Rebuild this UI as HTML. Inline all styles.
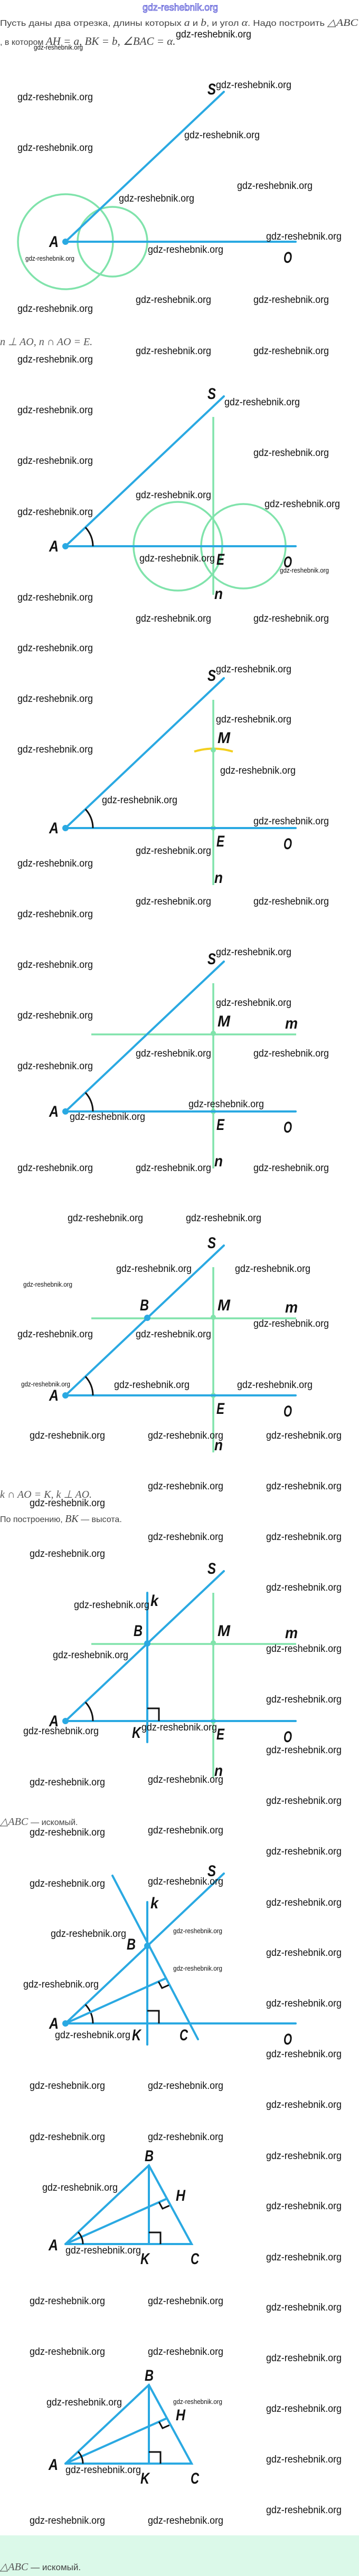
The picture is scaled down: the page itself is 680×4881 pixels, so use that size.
<!DOCTYPE html>
<html><head><meta charset="utf-8"><style>
html,body{margin:0;padding:0;background:#fff;}
svg{display:block;}
.w{font-family:"Liberation Sans",sans-serif;font-size:19px;fill:#111;}
.ws{font-family:"Liberation Sans",sans-serif;font-size:13px;fill:#111;}
.L{font-family:"Liberation Sans",sans-serif;font-size:30px;font-style:italic;font-weight:bold;fill:#111;}
.t{font-family:"Liberation Sans",sans-serif;font-size:16px;fill:#444;}
.m{font-family:"Liberation Serif",serif;font-style:italic;font-size:20px;fill:#555;}
.bl{stroke:#2aa9e2;stroke-width:4;stroke-linecap:round;fill:none;}
.gr{stroke:#80e3ab;stroke-width:3.5;fill:none;}
.bk{stroke:#111;stroke-width:3;fill:none;}
</style></head><body>
<svg width="680" height="4881" viewBox="0 0 680 4881" xmlns="http://www.w3.org/2000/svg">
<defs>
<g id="base">
<line class="bl" x1="124" y1="0" x2="424" y2="-284"/>
<line class="bl" x1="124" y1="0" x2="560" y2="0"/>
<circle cx="124" cy="0" r="6" fill="#2aa9e2"/>
<text class="L" x="93" y="10" textLength="18" lengthAdjust="spacingAndGlyphs">A</text>
<text class="L" x="393" y="-279" textLength="16" lengthAdjust="spacingAndGlyphs">S</text>
<text class="L" x="537" y="40" textLength="16" lengthAdjust="spacingAndGlyphs">O</text>
</g>
<path id="arc" class="bk" d="M176,0 A52 52 0 0 0 161.8,-35.7"/>
<g id="nline">
<line class="gr" x1="404" y1="-243" x2="404" y2="108"/>
<circle cx="404" cy="0" r="5" fill="#80e3ab"/>
<text class="L" x="410" y="35" textLength="15" lengthAdjust="spacingAndGlyphs">E</text>
<text class="L" x="406" y="104" textLength="16" lengthAdjust="spacingAndGlyphs">n</text>
<circle cx="404" cy="-148" r="5" fill="#80e3ab"/>
<text class="L" x="412" y="-161" textLength="24" lengthAdjust="spacingAndGlyphs">M</text>
</g>
<g id="mline">
<line class="gr" x1="173" y1="-146" x2="561" y2="-146"/>
<text class="L" x="540" y="-157" textLength="24" lengthAdjust="spacingAndGlyphs">m</text>
</g>
<g id="tri">
<polyline class="bl" points="124,0 282,-149 363,0 124,0"/>
<line class="bl" x1="282" y1="-149" x2="282" y2="0"/>
<line class="bl" x1="124" y1="0" x2="314" y2="-85"/>
<path class="bk" d="M148,-22.6 A33 33 0 0 1 157,0"/>
<path class="bk" d="M282,-22 L304,-22 L304,0"/>
<path class="bk" d="M301.2,-79.3 L307.9,-67 L320.7,-72.7"/>
<text class="L" x="92" y="12" textLength="18" lengthAdjust="spacingAndGlyphs">A</text>
<text class="L" x="274" y="-157" textLength="17" lengthAdjust="spacingAndGlyphs">B</text>
<text class="L" x="333" y="-82" textLength="18" lengthAdjust="spacingAndGlyphs">H</text>
<text class="L" x="266" y="38" textLength="17" lengthAdjust="spacingAndGlyphs">K</text>
<text class="L" x="361" y="38" textLength="16" lengthAdjust="spacingAndGlyphs">C</text>
</g>
</defs>

<text x="270" y="20" font-family="Liberation Sans,sans-serif" font-size="18" fill="#fff" stroke="#3b3bd0" stroke-width="0.8" textLength="143" lengthAdjust="spacingAndGlyphs">gdz-reshebnik.org</text>
<text class="t" x="0" y="49" textLength="678" lengthAdjust="spacingAndGlyphs">Пусть даны два отрезка, длины которых <tspan font-family="Liberation Serif,serif" font-style="italic" font-size="19">a</tspan> и <tspan font-family="Liberation Serif,serif" font-style="italic" font-size="19">b</tspan>, и угол <tspan font-family="Liberation Serif,serif" font-style="italic" font-size="19">α</tspan>. Надо построить <tspan font-family="Liberation Serif,serif" font-style="italic" font-size="19">△ABC</tspan></text>
<text class="t" x="0" y="85">, в котором <tspan font-family="Liberation Serif,serif" font-style="italic" font-size="21">AH = a, BK = b, ∠BAC = α.</tspan></text>

<!-- D1 -->
<g transform="translate(0,458)">
<circle class="gr" cx="124" cy="0" r="90"/>
<circle class="gr" cx="213" cy="0" r="66"/>
<use href="#base"/>
</g>
<text class="m" x="0" y="654">n ⊥ AO, n ∩ AO = E.</text>

<!-- D2 -->
<g transform="translate(0,1035)">
<circle class="gr" cx="337" cy="0" r="84"/>
<circle class="gr" cx="461" cy="0" r="80"/>
<line class="gr" x1="404" y1="-245" x2="404" y2="92"/>
<use href="#base"/><use href="#arc"/>
<text class="L" x="410" y="35" textLength="15" lengthAdjust="spacingAndGlyphs">E</text>
<text class="L" x="406" y="100" textLength="16" lengthAdjust="spacingAndGlyphs">n</text>
</g>

<!-- D3 -->
<g transform="translate(0,1569)">
<path d="M368,-145 Q404,-156 441,-145" stroke="#f3cf1f" stroke-width="4" fill="none"/>
<use href="#nline"/>
<use href="#base"/><use href="#arc"/>
</g>

<!-- D4 -->
<g transform="translate(0,2106)">
<use href="#nline"/><use href="#mline"/>
<use href="#base"/><use href="#arc"/>
</g>

<!-- D5 -->
<g transform="translate(0,2644)">
<use href="#nline"/><use href="#mline"/>
<use href="#base"/><use href="#arc"/>
<circle cx="279" cy="-147" r="6" fill="#2aa9e2"/>
<text class="L" x="265" y="-161" textLength="17" lengthAdjust="spacingAndGlyphs">B</text>
</g>
<text class="m" x="0" y="2838">k ∩ AO = K, k ⊥ AO.</text>
<text class="t" x="0" y="2884">По построению, <tspan font-family="Liberation Serif,serif" font-style="italic" font-size="20">BK</tspan> — высота.</text>

<!-- D5b -->
<g transform="translate(0,3261)">
<use href="#nline"/><use href="#mline"/>
<use href="#base"/><use href="#arc"/>
<line class="bl" x1="279" y1="-243" x2="279" y2="40"/>
<circle cx="279" cy="-147" r="6" fill="#2aa9e2"/>
<path class="bk" d="M279,-24 L301,-24 L301,0"/>
<text class="L" x="253" y="-161" textLength="17" lengthAdjust="spacingAndGlyphs">B</text>
<text class="L" x="285" y="-218" textLength="15" lengthAdjust="spacingAndGlyphs">k</text>
<text class="L" x="250" y="32" textLength="17" lengthAdjust="spacingAndGlyphs">K</text>
</g>
<text class="m" x="0" y="3458">△ABC <tspan font-family="Liberation Sans,sans-serif" font-style="normal" font-size="16" fill="#444">— искомый.</tspan></text>

<!-- D6 -->
<g transform="translate(0,3834)">
<use href="#base"/><use href="#arc"/>
<line class="bl" x1="279" y1="-230" x2="279" y2="40"/>
<line class="bl" x1="213" y1="-280" x2="375" y2="30"/>
<line class="bl" x1="124" y1="0" x2="313" y2="-85"/>
<circle cx="279" cy="-147" r="6" fill="#2aa9e2"/>
<path class="bk" d="M279,-24 L301,-24 L301,0"/>
<path class="bk" d="M300.2,-79.3 L306.9,-67 L319.7,-72.7"/>
<text class="L" x="240" y="-140" textLength="17" lengthAdjust="spacingAndGlyphs">B</text>
<text class="L" x="285" y="-218" textLength="15" lengthAdjust="spacingAndGlyphs">k</text>
<text class="L" x="250" y="32" textLength="17" lengthAdjust="spacingAndGlyphs">K</text>
<text class="L" x="340" y="32" textLength="16" lengthAdjust="spacingAndGlyphs">C</text>
</g>

<!-- D7, D8 -->
<g transform="translate(0,4252)"><use href="#tri"/></g>
<g transform="translate(0,4668)"><use href="#tri"/></g>

<rect x="0" y="4804" width="680" height="77" fill="#dbf9e9"/>
<text class="m" x="0" y="4870">△ABC <tspan font-family="Liberation Sans,sans-serif" font-style="normal" font-size="17" fill="#444">— искомый.</tspan></text>

<!-- watermarks -->
<g class="w">
<text x="333" y="71" textLength="143" lengthAdjust="spacingAndGlyphs">gdz-reshebnik.org</text>
<text x="409" y="167" textLength="143" lengthAdjust="spacingAndGlyphs">gdz-reshebnik.org</text>
<text x="33" y="190" textLength="143" lengthAdjust="spacingAndGlyphs">gdz-reshebnik.org</text>
<text x="349" y="262" textLength="143" lengthAdjust="spacingAndGlyphs">gdz-reshebnik.org</text>
<text x="33" y="286" textLength="143" lengthAdjust="spacingAndGlyphs">gdz-reshebnik.org</text>
<text x="449" y="358" textLength="143" lengthAdjust="spacingAndGlyphs">gdz-reshebnik.org</text>
<text x="225" y="382" textLength="143" lengthAdjust="spacingAndGlyphs">gdz-reshebnik.org</text>
<text x="504" y="454" textLength="143" lengthAdjust="spacingAndGlyphs">gdz-reshebnik.org</text>
<text x="280" y="479" textLength="143" lengthAdjust="spacingAndGlyphs">gdz-reshebnik.org</text>
<text x="257" y="574" textLength="143" lengthAdjust="spacingAndGlyphs">gdz-reshebnik.org</text>
<text x="480" y="574" textLength="143" lengthAdjust="spacingAndGlyphs">gdz-reshebnik.org</text>
<text x="33" y="591" textLength="143" lengthAdjust="spacingAndGlyphs">gdz-reshebnik.org</text>
<text x="257" y="671" textLength="143" lengthAdjust="spacingAndGlyphs">gdz-reshebnik.org</text>
<text x="480" y="671" textLength="143" lengthAdjust="spacingAndGlyphs">gdz-reshebnik.org</text>
<text x="33" y="687" textLength="143" lengthAdjust="spacingAndGlyphs">gdz-reshebnik.org</text>
<text x="425" y="768" textLength="143" lengthAdjust="spacingAndGlyphs">gdz-reshebnik.org</text>
<text x="33" y="783" textLength="143" lengthAdjust="spacingAndGlyphs">gdz-reshebnik.org</text>
<text x="480" y="864" textLength="143" lengthAdjust="spacingAndGlyphs">gdz-reshebnik.org</text>
<text x="33" y="879" textLength="143" lengthAdjust="spacingAndGlyphs">gdz-reshebnik.org</text>
<text x="257" y="944" textLength="143" lengthAdjust="spacingAndGlyphs">gdz-reshebnik.org</text>
<text x="501" y="961" textLength="143" lengthAdjust="spacingAndGlyphs">gdz-reshebnik.org</text>
<text x="33" y="976" textLength="143" lengthAdjust="spacingAndGlyphs">gdz-reshebnik.org</text>
<text x="264" y="1064" textLength="143" lengthAdjust="spacingAndGlyphs">gdz-reshebnik.org</text>
<text x="33" y="1138" textLength="143" lengthAdjust="spacingAndGlyphs">gdz-reshebnik.org</text>
<text x="257" y="1178" textLength="143" lengthAdjust="spacingAndGlyphs">gdz-reshebnik.org</text>
<text x="480" y="1178" textLength="143" lengthAdjust="spacingAndGlyphs">gdz-reshebnik.org</text>
<text x="33" y="1234" textLength="143" lengthAdjust="spacingAndGlyphs">gdz-reshebnik.org</text>
<text x="409" y="1274" textLength="143" lengthAdjust="spacingAndGlyphs">gdz-reshebnik.org</text>
<text x="33" y="1330" textLength="143" lengthAdjust="spacingAndGlyphs">gdz-reshebnik.org</text>
<text x="409" y="1369" textLength="143" lengthAdjust="spacingAndGlyphs">gdz-reshebnik.org</text>
<text x="33" y="1426" textLength="143" lengthAdjust="spacingAndGlyphs">gdz-reshebnik.org</text>
<text x="417" y="1466" textLength="143" lengthAdjust="spacingAndGlyphs">gdz-reshebnik.org</text>
<text x="193" y="1522" textLength="143" lengthAdjust="spacingAndGlyphs">gdz-reshebnik.org</text>
<text x="480" y="1562" textLength="143" lengthAdjust="spacingAndGlyphs">gdz-reshebnik.org</text>
<text x="257" y="1618" textLength="143" lengthAdjust="spacingAndGlyphs">gdz-reshebnik.org</text>
<text x="33" y="1642" textLength="143" lengthAdjust="spacingAndGlyphs">gdz-reshebnik.org</text>
<text x="257" y="1714" textLength="143" lengthAdjust="spacingAndGlyphs">gdz-reshebnik.org</text>
<text x="480" y="1714" textLength="143" lengthAdjust="spacingAndGlyphs">gdz-reshebnik.org</text>
<text x="33" y="1738" textLength="143" lengthAdjust="spacingAndGlyphs">gdz-reshebnik.org</text>
<text x="409" y="1810" textLength="143" lengthAdjust="spacingAndGlyphs">gdz-reshebnik.org</text>
<text x="33" y="1834" textLength="143" lengthAdjust="spacingAndGlyphs">gdz-reshebnik.org</text>
<text x="409" y="1906" textLength="143" lengthAdjust="spacingAndGlyphs">gdz-reshebnik.org</text>
<text x="33" y="1930" textLength="143" lengthAdjust="spacingAndGlyphs">gdz-reshebnik.org</text>
<text x="257" y="2002" textLength="143" lengthAdjust="spacingAndGlyphs">gdz-reshebnik.org</text>
<text x="480" y="2002" textLength="143" lengthAdjust="spacingAndGlyphs">gdz-reshebnik.org</text>
<text x="33" y="2026" textLength="143" lengthAdjust="spacingAndGlyphs">gdz-reshebnik.org</text>
<text x="357" y="2098" textLength="143" lengthAdjust="spacingAndGlyphs">gdz-reshebnik.org</text>
<text x="132" y="2122" textLength="143" lengthAdjust="spacingAndGlyphs">gdz-reshebnik.org</text>
<text x="33" y="2219" textLength="143" lengthAdjust="spacingAndGlyphs">gdz-reshebnik.org</text>
<text x="257" y="2219" textLength="143" lengthAdjust="spacingAndGlyphs">gdz-reshebnik.org</text>
<text x="480" y="2219" textLength="143" lengthAdjust="spacingAndGlyphs">gdz-reshebnik.org</text>
<text x="128" y="2314" textLength="143" lengthAdjust="spacingAndGlyphs">gdz-reshebnik.org</text>
<text x="352" y="2314" textLength="143" lengthAdjust="spacingAndGlyphs">gdz-reshebnik.org</text>
<text x="220" y="2410" textLength="143" lengthAdjust="spacingAndGlyphs">gdz-reshebnik.org</text>
<text x="445" y="2410" textLength="143" lengthAdjust="spacingAndGlyphs">gdz-reshebnik.org</text>
<text x="480" y="2514" textLength="143" lengthAdjust="spacingAndGlyphs">gdz-reshebnik.org</text>
<text x="33" y="2534" textLength="143" lengthAdjust="spacingAndGlyphs">gdz-reshebnik.org</text>
<text x="257" y="2534" textLength="143" lengthAdjust="spacingAndGlyphs">gdz-reshebnik.org</text>
<text x="216" y="2630" textLength="143" lengthAdjust="spacingAndGlyphs">gdz-reshebnik.org</text>
<text x="449" y="2630" textLength="143" lengthAdjust="spacingAndGlyphs">gdz-reshebnik.org</text>
<text x="56" y="2726" textLength="143" lengthAdjust="spacingAndGlyphs">gdz-reshebnik.org</text>
<text x="280" y="2726" textLength="143" lengthAdjust="spacingAndGlyphs">gdz-reshebnik.org</text>
<text x="504" y="2726" textLength="143" lengthAdjust="spacingAndGlyphs">gdz-reshebnik.org</text>
<text x="280" y="2822" textLength="143" lengthAdjust="spacingAndGlyphs">gdz-reshebnik.org</text>
<text x="504" y="2822" textLength="143" lengthAdjust="spacingAndGlyphs">gdz-reshebnik.org</text>
<text x="56" y="2854" textLength="143" lengthAdjust="spacingAndGlyphs">gdz-reshebnik.org</text>
<text x="280" y="2918" textLength="143" lengthAdjust="spacingAndGlyphs">gdz-reshebnik.org</text>
<text x="504" y="2918" textLength="143" lengthAdjust="spacingAndGlyphs">gdz-reshebnik.org</text>
<text x="56" y="2950" textLength="143" lengthAdjust="spacingAndGlyphs">gdz-reshebnik.org</text>
<text x="504" y="3014" textLength="143" lengthAdjust="spacingAndGlyphs">gdz-reshebnik.org</text>
<text x="140" y="3047" textLength="143" lengthAdjust="spacingAndGlyphs">gdz-reshebnik.org</text>
<text x="504" y="3130" textLength="143" lengthAdjust="spacingAndGlyphs">gdz-reshebnik.org</text>
<text x="100" y="3142" textLength="143" lengthAdjust="spacingAndGlyphs">gdz-reshebnik.org</text>
<text x="504" y="3226" textLength="143" lengthAdjust="spacingAndGlyphs">gdz-reshebnik.org</text>
<text x="268" y="3279" textLength="143" lengthAdjust="spacingAndGlyphs">gdz-reshebnik.org</text>
<text x="44" y="3286" textLength="143" lengthAdjust="spacingAndGlyphs">gdz-reshebnik.org</text>
<text x="504" y="3322" textLength="143" lengthAdjust="spacingAndGlyphs">gdz-reshebnik.org</text>
<text x="280" y="3378" textLength="143" lengthAdjust="spacingAndGlyphs">gdz-reshebnik.org</text>
<text x="56" y="3383" textLength="143" lengthAdjust="spacingAndGlyphs">gdz-reshebnik.org</text>
<text x="504" y="3418" textLength="143" lengthAdjust="spacingAndGlyphs">gdz-reshebnik.org</text>
<text x="280" y="3474" textLength="143" lengthAdjust="spacingAndGlyphs">gdz-reshebnik.org</text>
<text x="56" y="3478" textLength="143" lengthAdjust="spacingAndGlyphs">gdz-reshebnik.org</text>
<text x="504" y="3514" textLength="143" lengthAdjust="spacingAndGlyphs">gdz-reshebnik.org</text>
<text x="280" y="3571" textLength="143" lengthAdjust="spacingAndGlyphs">gdz-reshebnik.org</text>
<text x="56" y="3575" textLength="143" lengthAdjust="spacingAndGlyphs">gdz-reshebnik.org</text>
<text x="504" y="3611" textLength="143" lengthAdjust="spacingAndGlyphs">gdz-reshebnik.org</text>
<text x="96" y="3670" textLength="143" lengthAdjust="spacingAndGlyphs">gdz-reshebnik.org</text>
<text x="504" y="3706" textLength="143" lengthAdjust="spacingAndGlyphs">gdz-reshebnik.org</text>
<text x="44" y="3766" textLength="143" lengthAdjust="spacingAndGlyphs">gdz-reshebnik.org</text>
<text x="504" y="3802" textLength="143" lengthAdjust="spacingAndGlyphs">gdz-reshebnik.org</text>
<text x="104" y="3862" textLength="143" lengthAdjust="spacingAndGlyphs">gdz-reshebnik.org</text>
<text x="504" y="3898" textLength="143" lengthAdjust="spacingAndGlyphs">gdz-reshebnik.org</text>
<text x="56" y="3958" textLength="143" lengthAdjust="spacingAndGlyphs">gdz-reshebnik.org</text>
<text x="280" y="3958" textLength="143" lengthAdjust="spacingAndGlyphs">gdz-reshebnik.org</text>
<text x="504" y="3994" textLength="143" lengthAdjust="spacingAndGlyphs">gdz-reshebnik.org</text>
<text x="56" y="4055" textLength="143" lengthAdjust="spacingAndGlyphs">gdz-reshebnik.org</text>
<text x="280" y="4055" textLength="143" lengthAdjust="spacingAndGlyphs">gdz-reshebnik.org</text>
<text x="504" y="4091" textLength="143" lengthAdjust="spacingAndGlyphs">gdz-reshebnik.org</text>
<text x="80" y="4151" textLength="143" lengthAdjust="spacingAndGlyphs">gdz-reshebnik.org</text>
<text x="504" y="4186" textLength="143" lengthAdjust="spacingAndGlyphs">gdz-reshebnik.org</text>
<text x="124" y="4270" textLength="143" lengthAdjust="spacingAndGlyphs">gdz-reshebnik.org</text>
<text x="504" y="4283" textLength="143" lengthAdjust="spacingAndGlyphs">gdz-reshebnik.org</text>
<text x="56" y="4366" textLength="143" lengthAdjust="spacingAndGlyphs">gdz-reshebnik.org</text>
<text x="280" y="4366" textLength="143" lengthAdjust="spacingAndGlyphs">gdz-reshebnik.org</text>
<text x="504" y="4378" textLength="143" lengthAdjust="spacingAndGlyphs">gdz-reshebnik.org</text>
<text x="56" y="4462" textLength="143" lengthAdjust="spacingAndGlyphs">gdz-reshebnik.org</text>
<text x="280" y="4462" textLength="143" lengthAdjust="spacingAndGlyphs">gdz-reshebnik.org</text>
<text x="504" y="4474" textLength="143" lengthAdjust="spacingAndGlyphs">gdz-reshebnik.org</text>
<text x="88" y="4558" textLength="143" lengthAdjust="spacingAndGlyphs">gdz-reshebnik.org</text>
<text x="504" y="4570" textLength="143" lengthAdjust="spacingAndGlyphs">gdz-reshebnik.org</text>
<text x="504" y="4666" textLength="143" lengthAdjust="spacingAndGlyphs">gdz-reshebnik.org</text>
<text x="124" y="4686" textLength="143" lengthAdjust="spacingAndGlyphs">gdz-reshebnik.org</text>
<text x="504" y="4762" textLength="143" lengthAdjust="spacingAndGlyphs">gdz-reshebnik.org</text>
<text x="56" y="4782" textLength="143" lengthAdjust="spacingAndGlyphs">gdz-reshebnik.org</text>
<text x="280" y="4782" textLength="143" lengthAdjust="spacingAndGlyphs">gdz-reshebnik.org</text>
</g>
<g class="ws">
<text x="64" y="94" textLength="93" lengthAdjust="spacingAndGlyphs">gdz-reshebnik.org</text>
<text x="48" y="494" textLength="93" lengthAdjust="spacingAndGlyphs">gdz-reshebnik.org</text>
<text x="530" y="1085" textLength="93" lengthAdjust="spacingAndGlyphs">gdz-reshebnik.org</text>
<text x="44" y="2438" textLength="93" lengthAdjust="spacingAndGlyphs">gdz-reshebnik.org</text>
<text x="40" y="2627" textLength="93" lengthAdjust="spacingAndGlyphs">gdz-reshebnik.org</text>
<text x="328" y="3663" textLength="93" lengthAdjust="spacingAndGlyphs">gdz-reshebnik.org</text>
<text x="328" y="3734" textLength="93" lengthAdjust="spacingAndGlyphs">gdz-reshebnik.org</text>
<text x="328" y="4555" textLength="93" lengthAdjust="spacingAndGlyphs">gdz-reshebnik.org</text>
</g>
</svg>
</body></html>
